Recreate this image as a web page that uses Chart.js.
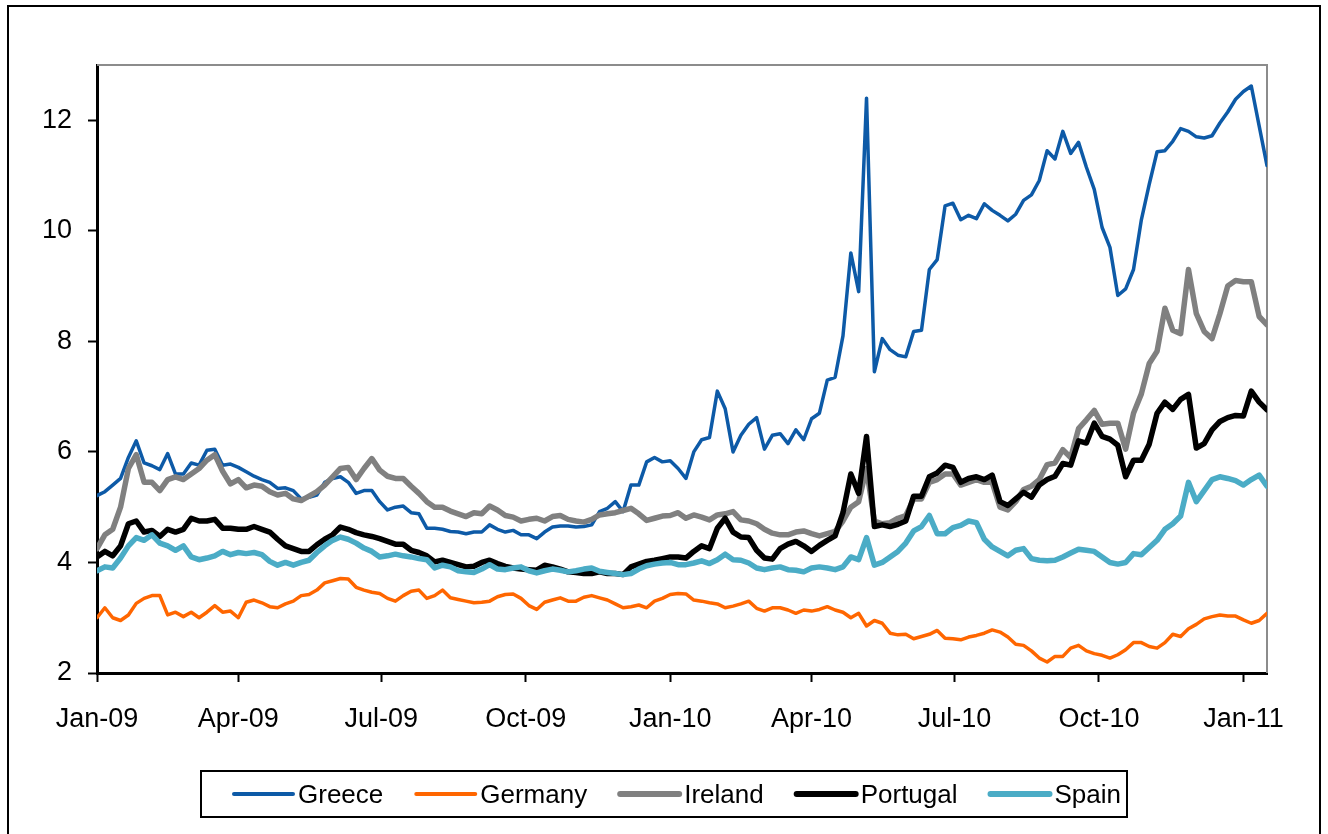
<!DOCTYPE html>
<html>
<head>
<meta charset="utf-8">
<title>10-year government bond yields</title>
<script src="https://cdn.jsdelivr.net/npm/chart.js@4.4.1/dist/chart.umd.min.js"></script>
<style>
    html, body { margin: 0; padding: 0; background: #ffffff; }
    #YieldChartParent { position: absolute; left: 0; top: 0; width: 1328px; height: 834px; }
</style>
</head>
<body>
<div id="YieldChartParent"><canvas id="YieldChart" width="1328" height="834"></canvas></div>
<script>
// one reading every 5 days, starting 1 Jan 2009
var StepDays = 5;
var TickDays = [0, 90, 181, 273, 365, 455, 546, 638, 730];
var TickLabels = ['Jan-09', 'Apr-09', 'Jul-09', 'Oct-09', 'Jan-10', 'Apr-10', 'Jul-10', 'Oct-10', 'Jan-11'];
var YTicks = [2, 4, 6, 8, 10, 12];
var SeriesNames = ['Greece', 'Germany', 'Ireland', 'Portugal', 'Spain'];

var Greece = [5.21, 5.28, 5.40, 5.52, 5.9, 6.2, 5.8, 5.75, 5.68, 5.97, 5.6, 5.6, 5.8, 5.76, 6.03, 6.05, 5.76, 5.78, 5.72, 5.64, 5.56, 5.5, 5.45, 5.34, 5.35,
    5.3, 5.15, 5.18, 5.22, 5.45, 5.52, 5.55, 5.45, 5.25, 5.3, 5.3, 5.1, 4.95, 5.0, 5.02, 4.9, 4.88, 4.62, 4.62, 4.6, 4.56, 4.55, 4.52, 4.55,
    4.55, 4.68, 4.6, 4.55, 4.58, 4.5, 4.5, 4.43, 4.55, 4.64, 4.66, 4.66, 4.64, 4.65, 4.68, 4.92, 4.98, 5.1, 4.92, 5.4, 5.4, 5.82, 5.9, 5.82, 5.84,
    5.7, 5.52, 6.0, 6.22, 6.26, 7.1, 6.78, 6.0, 6.3, 6.5, 6.62, 6.05, 6.3, 6.33, 6.15, 6.4, 6.22, 6.6, 6.7, 7.3, 7.35, 8.1, 9.6,
    8.9, 12.4, 7.45, 8.05, 7.85, 7.75, 7.72, 8.18, 8.2, 9.3, 9.48, 10.45, 10.5, 10.2, 10.28, 10.22, 10.49, 10.37, 10.28, 10.18, 10.3,
    10.55, 10.65, 10.91, 11.45, 11.3, 11.8, 11.4, 11.6, 11.15, 10.75, 10.06, 9.7, 8.83, 8.95, 9.3, 10.2, 10.84, 11.43, 11.45, 11.62, 11.85, 11.8, 11.7, 11.68, 11.72, 11.95, 12.15, 12.38, 12.52, 12.62, 11.9, 11.18];

var Germany = [3.0, 3.18, 3.0, 2.95, 3.05, 3.26, 3.35, 3.4, 3.4, 3.05, 3.1, 3.02, 3.1, 3.0, 3.1, 3.22, 3.1, 3.12, 3.0, 3.28, 3.32, 3.27, 3.2, 3.18, 3.25,
    3.3, 3.4, 3.42, 3.5, 3.63, 3.67, 3.71, 3.7, 3.55, 3.5, 3.46, 3.44, 3.35, 3.3, 3.4, 3.48, 3.5, 3.35, 3.4, 3.5, 3.36, 3.33, 3.3, 3.27,
    3.28, 3.3, 3.38, 3.42, 3.43, 3.35, 3.22, 3.15, 3.28, 3.32, 3.36, 3.3, 3.3, 3.37, 3.4, 3.36, 3.32, 3.25, 3.18, 3.2, 3.23, 3.18, 3.3, 3.35, 3.42,
    3.44, 3.43, 3.32, 3.3, 3.27, 3.25, 3.18, 3.21, 3.25, 3.3, 3.17, 3.12, 3.18, 3.18, 3.14, 3.08, 3.14, 3.12, 3.15, 3.2, 3.14, 3.1, 3.0,
    3.08, 2.85, 2.95, 2.9, 2.72, 2.69, 2.7, 2.62, 2.66, 2.7, 2.77, 2.63, 2.62, 2.6, 2.65, 2.68, 2.72, 2.78, 2.74, 2.65, 2.52,
    2.5, 2.4, 2.27, 2.2, 2.3, 2.3, 2.45, 2.5, 2.4, 2.35, 2.32, 2.27, 2.33, 2.42, 2.55, 2.55, 2.48, 2.45, 2.55, 2.7, 2.66, 2.8, 2.88, 2.98, 3.02, 3.05, 3.03, 3.03, 2.96, 2.9, 2.95, 3.08];

var Ireland = [4.25, 4.5, 4.6, 5.0, 5.7, 5.95, 5.45, 5.45, 5.3, 5.5, 5.55, 5.5, 5.6, 5.7, 5.85, 5.95, 5.65, 5.42, 5.5, 5.35, 5.4, 5.38, 5.28, 5.22, 5.25,
    5.15, 5.12, 5.2, 5.28, 5.4, 5.55, 5.7, 5.72, 5.5, 5.7, 5.88, 5.67, 5.56, 5.52, 5.52, 5.38, 5.25, 5.1, 5.0, 5.0, 4.93, 4.88, 4.83, 4.9,
    4.88, 5.02, 4.95, 4.85, 4.82, 4.75, 4.78, 4.8, 4.75, 4.83, 4.85, 4.78, 4.75, 4.73, 4.78, 4.86, 4.88, 4.9, 4.94, 4.98, 4.88, 4.76, 4.8, 4.84, 4.85,
    4.9, 4.8, 4.86, 4.82, 4.77, 4.86, 4.88, 4.92, 4.77, 4.75, 4.7, 4.6, 4.53, 4.5, 4.5, 4.55, 4.57, 4.52, 4.48, 4.52, 4.56, 4.75, 5.0,
    5.1, 5.7, 4.75, 4.7, 4.72, 4.8, 4.85, 5.15, 5.15, 5.45, 5.5, 5.6, 5.6, 5.4, 5.45, 5.5, 5.45, 5.45, 5.0, 4.95, 5.1,
    5.32, 5.38, 5.5, 5.77, 5.8, 6.04, 5.9, 6.42, 6.58, 6.75, 6.5, 6.52, 6.52, 6.05, 6.7, 7.05, 7.6, 7.82, 8.6, 8.2, 8.14, 9.3, 8.5, 8.18, 8.05, 8.5, 9.0, 9.1, 9.08, 9.08, 8.45, 8.3];

var Portugal = [4.1, 4.2, 4.12, 4.3, 4.7, 4.75, 4.55, 4.58, 4.47, 4.6, 4.55, 4.6, 4.8, 4.75, 4.75, 4.78, 4.62, 4.62, 4.6, 4.6, 4.65, 4.6, 4.55, 4.42, 4.3,
    4.25, 4.2, 4.2, 4.32, 4.42, 4.5, 4.64, 4.6, 4.54, 4.5, 4.47, 4.43, 4.38, 4.33, 4.33, 4.22, 4.18, 4.12, 4.01, 4.04, 4.0, 3.96, 3.92, 3.93,
    4.0, 4.04, 3.98, 3.93, 3.9, 3.88, 3.87, 3.86, 3.95, 3.92, 3.88, 3.83, 3.82, 3.8, 3.8, 3.83, 3.8, 3.8, 3.78, 3.92, 3.97, 4.02, 4.04, 4.07, 4.1,
    4.1, 4.08, 4.2, 4.3, 4.25, 4.62, 4.8, 4.55, 4.46, 4.45, 4.22, 4.08, 4.06, 4.25, 4.33, 4.38, 4.3, 4.2, 4.31, 4.4, 4.48, 4.9, 5.6,
    5.25, 6.28, 4.65, 4.68, 4.65, 4.69, 4.75, 5.2, 5.2, 5.55, 5.62, 5.76, 5.72, 5.45, 5.52, 5.55, 5.5, 5.58, 5.1, 5.03, 5.15,
    5.27, 5.18, 5.4, 5.5, 5.56, 5.79, 5.76, 6.2, 6.16, 6.52, 6.28, 6.23, 6.12, 5.55, 5.85, 5.85, 6.14, 6.7, 6.9, 6.77, 6.95, 7.04, 6.07, 6.15, 6.4, 6.55, 6.62, 6.66, 6.65, 7.1, 6.9, 6.76];

var Spain = [3.85, 3.92, 3.9, 4.08, 4.3, 4.45, 4.4, 4.5, 4.35, 4.3, 4.22, 4.3, 4.1, 4.05, 4.08, 4.12, 4.2, 4.14, 4.18, 4.16, 4.18, 4.14, 4.02, 3.95, 4.0,
    3.95, 4.0, 4.04, 4.18, 4.3, 4.4, 4.46, 4.42, 4.35, 4.26, 4.2, 4.1, 4.12, 4.15, 4.12, 4.1, 4.07, 4.05, 3.9, 3.95, 3.92, 3.85, 3.83, 3.82,
    3.88, 3.96, 3.88, 3.87, 3.9, 3.92, 3.85, 3.81, 3.85, 3.88, 3.86, 3.83, 3.85, 3.88, 3.9, 3.84, 3.82, 3.8, 3.78, 3.8, 3.88, 3.94, 3.97, 3.99, 4.0,
    3.96, 3.96, 3.99, 4.03, 3.98, 4.05, 4.15, 4.05, 4.04, 3.99, 3.9, 3.87, 3.9, 3.92, 3.87, 3.86, 3.83, 3.9, 3.92, 3.9, 3.87, 3.92, 4.1,
    4.05, 4.45, 3.95, 4.0, 4.1, 4.2, 4.35, 4.57, 4.65, 4.85, 4.52, 4.52, 4.63, 4.67, 4.75, 4.72, 4.42, 4.28, 4.2, 4.12, 4.22,
    4.25, 4.07, 4.04, 4.03, 4.04, 4.1, 4.17, 4.24, 4.22, 4.2, 4.1, 4.0, 3.97, 4.0, 4.16, 4.14, 4.27, 4.4, 4.6, 4.7, 4.84, 5.45, 5.1, 5.3, 5.5, 5.55, 5.52, 5.48, 5.4, 5.5, 5.58, 5.38];

function ToPoints(Values) {
    return Values.map(function (v, i) { return { x: i * StepDays, y: v }; });
}

var FontName = "'Liberation Sans', Arial, sans-serif";
Chart.defaults.font.family = FontName;
Chart.defaults.font.size = 27;
Chart.defaults.color = '#000000';

var SeriesColors = ['#0d5aa7', '#ff6600', '#808080', '#000000', '#4bacc6'];
var LineWidths = [3.5, 3.5, 5.5, 5.5, 5.5];
var AllSeries = [Greece, Germany, Ireland, Portugal, Spain];

// outer frame, grey top/right edge of the plot, boxed legend
var FramePlugin = {
    id: 'frame',
    beforeDatasetsDraw: function (chart) {
        var ctx = chart.ctx, a = chart.chartArea;
        ctx.save();
        ctx.strokeStyle = '#8c8c8c';
        ctx.lineWidth = 2;
        ctx.beginPath();
        ctx.moveTo(a.left, a.top);
        ctx.lineTo(a.right, a.top);
        ctx.lineTo(a.right, a.bottom);
        ctx.stroke();
        ctx.restore();
    },
    afterDraw: function (chart) {
        var ctx = chart.ctx;
        ctx.save();
        ctx.strokeStyle = '#000000';
        ctx.lineWidth = 2;
        ctx.strokeRect(8, 6, 1312, 840);
        ctx.strokeRect(201, 771, 926, 46);

        ctx.font = '26px ' + FontName;
        ctx.textBaseline = 'middle';
        ctx.textAlign = 'left';
        var x = 234, y = 794;
        for (var i = 0; i < SeriesNames.length; i++) {
            ctx.strokeStyle = SeriesColors[i];
            ctx.lineWidth = LineWidths[i] + 0.5;
            ctx.lineCap = 'round';
            ctx.beginPath();
            ctx.moveTo(x, y);
            ctx.lineTo(x + 59, y);
            ctx.stroke();
            ctx.fillStyle = '#000000';
            ctx.fillText(SeriesNames[i], x + 64, y + 2);
            x += 64 + ctx.measureText(SeriesNames[i]).width + 33;
        }
        ctx.restore();
    }
};

var YieldCtx = document.getElementById('YieldChart').getContext('2d');
new Chart(YieldCtx, {
    type: 'line',
    data: {
        datasets: AllSeries.map(function (s, i) {
            return {
                label: SeriesNames[i],
                data: ToPoints(s),
                borderColor: SeriesColors[i],
                backgroundColor: SeriesColors[i],
                borderWidth: LineWidths[i],
                borderJoinStyle: 'round',
                borderCapStyle: 'round',
                pointRadius: 0,
                tension: 0,
                fill: false,
                order: SeriesNames.length - i
            };
        })
    },
    options: {
        responsive: false,
        animation: false,
        devicePixelRatio: 1,
        layout: { padding: { left: 37, right: 61, top: 65, bottom: 91 } },
        plugins: {
            legend: { display: false },
            tooltip: { enabled: false }
        },
        scales: {
            x: {
                type: 'linear',
                min: 0,
                max: 745,
                afterBuildTicks: function (scale) {
                    scale.ticks = TickDays.map(function (d) { return { value: d }; });
                },
                afterFit: function (scale) { scale.height = 70; },
                ticks: {
                    autoSkip: false,
                    maxRotation: 0,
                    minRotation: 0,
                    padding: 21,
                    callback: function (value) {
                        var k = TickDays.indexOf(value);
                        return k >= 0 ? TickLabels[k] : '';
                    }
                },
                grid: { drawOnChartArea: false, tickLength: 9, tickWidth: 2, tickColor: '#000000' },
                border: { color: '#000000', width: 3 }
            },
            y: {
                min: 2,
                max: 13,
                afterBuildTicks: function (scale) {
                    scale.ticks = YTicks.map(function (v) { return { value: v }; });
                },
                afterFit: function (scale) { scale.width = 60; },
                ticks: { padding: 16 },
                grid: { drawOnChartArea: false, tickLength: 9, tickWidth: 2, tickColor: '#000000' },
                border: { color: '#000000', width: 3 }
            }
        }
    },
    plugins: [FramePlugin]
});
</script>
</body>
</html>
